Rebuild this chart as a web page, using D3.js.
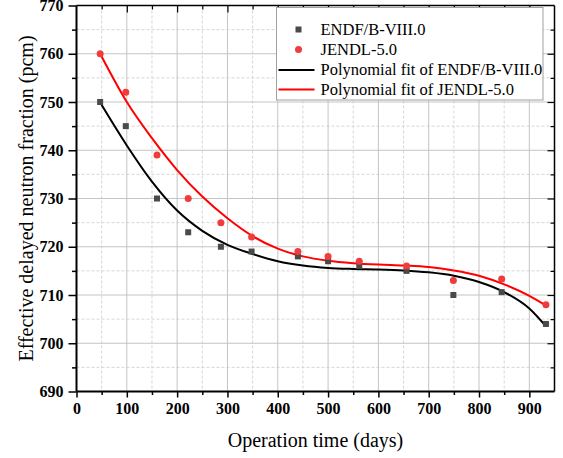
<!DOCTYPE html>
<html>
<head>
<meta charset="utf-8">
<script src="https://cdn.jsdelivr.net/npm/d3@7"></script>
<style>
  body { margin: 0; background: #fff; }
  svg text { font-family: "Liberation Serif", "Times New Roman", serif; }
</style>
</head>
<body>
<div id="chart"></div>
<script>
// measured points
const days = [47, 98, 160, 222, 287, 348, 440, 500, 562, 656, 749, 845, 933];
const endf = [750, 745, 730, 723, 720, 719, 718, 717, 716, 715, 710, 710.6, 704];
const jendl = [760, 752, 739, 730, 725, 722, 719, 718, 717, 716, 713, 713.3, 708];

// fit curves
const fitDays = [47, 100, 150, 200, 250, 300, 350, 400, 450, 500, 550, 600, 650, 700, 750, 800, 850, 900, 933];
const endfFit = [749.9, 741.0, 733.5, 727.5, 723.3, 720.4, 718.5, 717.0, 716.1, 715.6, 715.4, 715.3, 715.1, 714.7, 714.0, 712.7, 710.6, 707.2, 703.5];
const jendlFit = [760.0, 750.0, 742.5, 735.9, 730.4, 725.9, 722.2, 719.6, 718.0, 717.1, 716.6, 716.3, 716.1, 715.8, 715.1, 714.0, 712.2, 709.8, 707.8];

const xTicks = [0, 100, 200, 300, 400, 500, 600, 700, 800, 900];
const yTicks = [690, 700, 710, 720, 730, 740, 750, 760, 770];

const legendLabels = ["ENDF/B-VIII.0", "JENDL-5.0", "Polynomial fit of ENDF/B-VIII.0", "Polynomial fit of JENDL-5.0"];

const W = 563, H = 458;
const margin = {top: 5.5, right: 8.5, bottom: 66.5, left: 76.5};
const w = W - margin.left - margin.right;
const h = H - margin.top - margin.bottom;
const serif = '"Liberation Serif", "Times New Roman", serif';

const svg = d3.select('#chart').append('svg')
    .attr('width', W)
    .attr('height', H);

const g = svg.append('g')
    .attr('transform', 'translate(' + margin.left + ',' + margin.top + ')');

const x = d3.scaleLinear().domain([0, 950]).range([0, w]);
const y = d3.scaleLinear().domain([690, 770]).range([h, 0]);

const xMinor = d3.range(50, 950, 100);
const yMinor = d3.range(695, 770, 10);

// grid
g.append('g').selectAll('line')
    .data(xMinor)
    .enter().append('line')
    .attr('x1', d => x(d)).attr('x2', d => x(d))
    .attr('y1', 0).attr('y2', h)
    .attr('stroke', '#d6d6d6').attr('stroke-dasharray', '3,2');
g.append('g').selectAll('line')
    .data(yMinor)
    .enter().append('line')
    .attr('y1', d => y(d)).attr('y2', d => y(d))
    .attr('x1', 0).attr('x2', w)
    .attr('stroke', '#d6d6d6').attr('stroke-dasharray', '3,2');
g.append('g').selectAll('line')
    .data(xTicks.slice(1))
    .enter().append('line')
    .attr('x1', d => x(d)).attr('x2', d => x(d))
    .attr('y1', 0).attr('y2', h)
    .attr('stroke', '#c4c4c4');
g.append('g').selectAll('line')
    .data(yTicks.slice(1, -1))
    .enter().append('line')
    .attr('y1', d => y(d)).attr('y2', d => y(d))
    .attr('x1', 0).attr('x2', w)
    .attr('stroke', '#c4c4c4');

// axes
function styleAxis(sel, width) {
    sel.attr('font-family', serif);
    sel.select('.domain').remove();
    sel.selectAll('line').attr('stroke', '#000').attr('stroke-width', width);
}

const axBottom = g.append('g').attr('transform', 'translate(0,' + h + ')')
    .call(d3.axisBottom(x).tickValues(xTicks).tickSize(6).tickPadding(5).tickFormat(d3.format('d')));
styleAxis(axBottom, 1.5);
axBottom.selectAll('text').attr('font-size', 16).attr('font-weight', 'bold').attr('fill', '#000');
axBottom.append('g').call(d3.axisBottom(x).tickValues(xMinor).tickSize(3.5).tickFormat(''))
    .call(s => styleAxis(s, 1.5));

const axLeft = g.append('g')
    .call(d3.axisLeft(y).tickValues(yTicks).tickSize(8).tickPadding(5).tickFormat(d3.format('d')));
styleAxis(axLeft, 1.5);
axLeft.selectAll('text').attr('font-size', 16).attr('font-weight', 'bold').attr('fill', '#000');
axLeft.append('g').call(d3.axisLeft(y).tickValues(yMinor).tickSize(4.5).tickFormat(''))
    .call(s => styleAxis(s, 1.5));

const axTop = g.append('g')
    .call(d3.axisBottom(x).tickValues(xTicks.slice(1)).tickSize(7).tickFormat(''));
styleAxis(axTop, 1.2);
axTop.append('g').call(d3.axisBottom(x).tickValues(xMinor).tickSize(4).tickFormat(''))
    .call(s => styleAxis(s, 1.2));

const axRight = g.append('g').attr('transform', 'translate(' + w + ',0)')
    .call(d3.axisLeft(y).tickValues(yTicks.slice(1, -1)).tickSize(7).tickFormat(''));
styleAxis(axRight, 1.2);
axRight.append('g').call(d3.axisLeft(y).tickValues(yMinor).tickSize(4).tickFormat(''))
    .call(s => styleAxis(s, 1.2));

// frame
g.append('line').attr('x1', 0).attr('x2', w).attr('y1', 0).attr('y2', 0).attr('stroke', '#000').attr('stroke-width', 1.5);
g.append('line').attr('x1', w).attr('x2', w).attr('y1', 0).attr('y2', h).attr('stroke', '#000').attr('stroke-width', 1.5);
g.append('line').attr('x1', 0).attr('x2', 0).attr('y1', 0).attr('y2', h).attr('stroke', '#000').attr('stroke-width', 2);
g.append('line').attr('x1', 0).attr('x2', w).attr('y1', h).attr('y2', h).attr('stroke', '#000').attr('stroke-width', 2);

// fits
const line = d3.line().curve(d3.curveMonotoneX)
    .x(d => x(d[0])).y(d => y(d[1]));

g.append('path')
    .datum(d3.zip(fitDays, endfFit))
    .attr('d', line)
    .attr('fill', 'none').attr('stroke', '#000').attr('stroke-width', 2);
g.append('path')
    .datum(d3.zip(fitDays, jendlFit))
    .attr('d', line)
    .attr('fill', 'none').attr('stroke', '#ff0000').attr('stroke-width', 2);

// points
g.append('g').selectAll('rect')
    .data(d3.zip(days, endf))
    .enter().append('rect')
    .attr('x', d => x(d[0]) - 3)
    .attr('y', d => y(d[1]) - 3)
    .attr('width', 6).attr('height', 6)
    .attr('fill', '#4a4a4a');
g.append('g').selectAll('circle')
    .data(d3.zip(days, jendl))
    .enter().append('circle')
    .attr('cx', d => x(d[0]))
    .attr('cy', d => y(d[1]))
    .attr('r', 3.5)
    .attr('fill', '#f03c3c');

// legend
const lg = svg.append('g').attr('transform', 'translate(276.5,7.5)');
lg.append('rect').attr('width', 266.5).attr('height', 92.5)
    .attr('fill', '#fff').attr('stroke', '#a0a0a0').attr('stroke-width', 1);
legendLabels.forEach(function (t, i) {
    const cy = 22 + i * 20;
    lg.append('text').attr('x', 44).attr('y', cy).attr('dy', '0.35em')
        .attr('font-size', 16.5).attr('fill', '#000').text(t);
});
lg.append('rect').attr('x', 19).attr('y', 19).attr('width', 6).attr('height', 6).attr('fill', '#4a4a4a');
lg.append('circle').attr('cx', 22).attr('cy', 42).attr('r', 3.5).attr('fill', '#f03c3c');
lg.append('line').attr('x1', 2).attr('x2', 38).attr('y1', 62.5).attr('y2', 62.5).attr('stroke', '#000').attr('stroke-width', 2);
lg.append('line').attr('x1', 2).attr('x2', 38).attr('y1', 82).attr('y2', 82).attr('stroke', '#ff0000').attr('stroke-width', 2);

// titles
svg.append('text')
    .attr('x', margin.left + x(475)).attr('y', 447)
    .attr('text-anchor', 'middle').attr('font-size', 20).attr('fill', '#000')
    .text('Operation time (days)');
svg.append('text')
    .attr('transform', 'translate(33,' + (margin.top + h / 2) + ') rotate(-90)')
    .attr('text-anchor', 'middle').attr('font-size', 20).attr('fill', '#000')
    .text('Effective delayed neutron fraction (pcm)');
</script>
</body>
</html>
